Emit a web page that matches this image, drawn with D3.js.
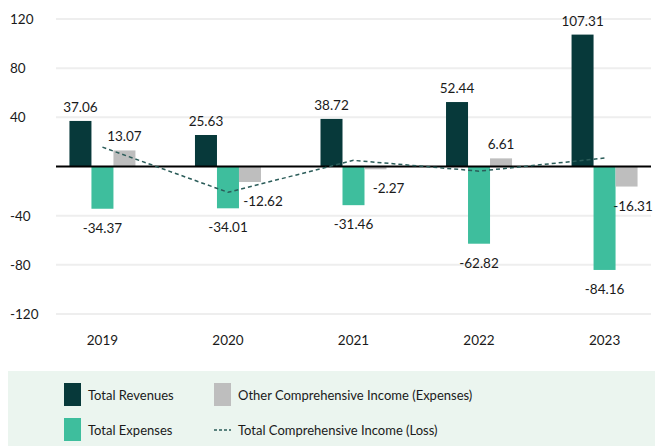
<!DOCTYPE html>
<html>
<head>
<meta charset="utf-8">
<script src="https://cdn.jsdelivr.net/npm/d3@7"></script>
<style>
  body { margin: 0; background: #fff; }
  text { font-family: Lato, "Noto Sans", sans-serif; fill: #1a1a1a; }
</style>
</head>
<body>
<div id="chart"></div>
<script>
const years = ['2019', '2020', '2021', '2022', '2023'];
const revenues = [37.06, 25.63, 38.72, 52.44, 107.31];
const expenses = [-34.37, -34.01, -31.46, -62.82, -84.16];
const otherIncome = [13.07, -12.62, -2.27, 6.61, -16.31];
const totalIncome = [15.76, -21.00, 4.99, -3.77, 6.84];
const yTicks = [-120, -80, -40, 0, 40, 80, 120];

const width = 655;
const height = 446;
const margin = {top: 19, right: 4, bottom: 132, left: 56};

const colors = {rev: '#07393a', exp: '#3ebe9d', oci: '#bebebe'};

const svg = d3.select('#chart').append('svg')
    .attr('width', width)
    .attr('height', height);

// SCALES
const y = d3.scaleLinear()
    .domain([-120, 120])
    .range([height - margin.bottom, margin.top]);

const x = d3.scalePoint()
    .domain(years)
    .range([margin.left, width - margin.right])
    .padding(0.37);

// three bars per year, side by side around the year's centre
const sub = d3.scaleBand()
    .domain(['rev', 'exp', 'oci'])
    .range([-33, 33]);

// gridlines
svg.append('g')
    .selectAll('line')
    .data(yTicks.filter(d => d !== 0))
    .join('line')
        .attr('x1', margin.left)
        .attr('x2', width - margin.right)
        .attr('y1', d => y(d))
        .attr('y2', d => y(d))
        .attr('stroke', '#eeeeee')
        .attr('stroke-width', 2);

// y tick labels
svg.append('g')
    .selectAll('text')
    .data(yTicks.filter(d => d !== 0))
    .join('text')
        .attr('x', 10)
        .attr('y', d => y(d) + 5)
        .attr('font-size', '13.5px')
        .text(d => d);

// x labels
svg.append('g')
    .selectAll('text')
    .data(years)
    .join('text')
        .attr('x', d => x(d))
        .attr('y', 345)
        .attr('text-anchor', 'middle')
        .attr('font-size', '13.5px')
        .text(d => d);

// BARS
const series = [
    {key: 'rev', values: revenues},
    {key: 'exp', values: expenses},
    {key: 'oci', values: otherIncome}
];

series.forEach(s => {
    const g = svg.append('g');
    g.selectAll('rect')
        .data(s.values)
        .join('rect')
            .attr('x', (d, i) => x(years[i]) + sub(s.key))
            .attr('y', d => y(Math.max(0, d)))
            .attr('width', sub.bandwidth())
            .attr('height', d => Math.abs(y(d) - y(0)))
            .attr('fill', colors[s.key]);

    g.selectAll('text')
        .data(s.values)
        .join('text')
            .attr('x', (d, i) => {
                let cx = x(years[i]) + sub(s.key) + sub.bandwidth() / 2;
                // negative grey labels sit a bit to the right, but stay inside
                if (s.key === 'oci' && d < 0) { return Math.min(cx + 13, width - 22); }
                return cx;
            })
            .attr('y', d => d >= 0 ? y(d) - 9 : y(d) + 24)
            .attr('text-anchor', 'middle')
            .attr('font-size', '13.5px')
            .text(d => d.toFixed(2));
});

// zero line
svg.append('line')
    .attr('x1', margin.left)
    .attr('x2', width - margin.right)
    .attr('y1', y(0))
    .attr('y2', y(0))
    .attr('stroke', '#000')
    .attr('stroke-width', 2);

// total comprehensive income line
const line = d3.line()
    .x((d, i) => x(years[i]))
    .y(d => y(d));

svg.append('path')
    .datum(totalIncome)
    .attr('d', line)
    .attr('fill', 'none')
    .attr('stroke', '#2b5c59')
    .attr('stroke-width', 1.5)
    .attr('stroke-dasharray', '4,3');

// LEGEND
const legend = svg.append('g');
legend.append('rect')
    .attr('x', 8)
    .attr('y', 371)
    .attr('width', width - 8)
    .attr('height', 75)
    .attr('fill', '#ebf5ef');

const items = [
    {label: 'Total Revenues', type: 'rect', color: colors.rev, x: 64, y: 383},
    {label: 'Other Comprehensive Income (Expenses)', type: 'rect', color: colors.oci, x: 214, y: 383},
    {label: 'Total Expenses', type: 'rect', color: colors.exp, x: 64, y: 418},
    {label: 'Total Comprehensive Income (Loss)', type: 'line', color: '#2b5c59', x: 214, y: 418}
];

items.forEach(it => {
    if (it.type === 'rect') {
        legend.append('rect')
            .attr('x', it.x)
            .attr('y', it.y)
            .attr('width', 17)
            .attr('height', 23)
            .attr('fill', it.color);
    } else {
        legend.append('line')
            .attr('x1', it.x)
            .attr('x2', it.x + 17)
            .attr('y1', it.y + 12)
            .attr('y2', it.y + 12)
            .attr('stroke', it.color)
            .attr('stroke-width', 1.3)
            .attr('stroke-dasharray', '3,2');
    }
    legend.append('text')
        .attr('x', it.x + 24)
        .attr('y', it.y + 17)
        .attr('font-size', '13px')
        .text(it.label);
});
</script>
</body>
</html>
